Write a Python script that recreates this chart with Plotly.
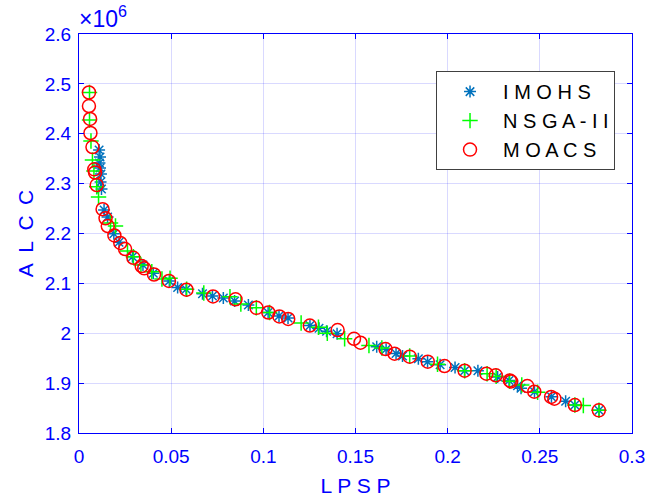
import plotly.graph_objects as go

# LPSP / ALCC (ALCC in units of 1e6)
imohs_lpsp = [0.0109, 0.0114, 0.0111, 0.0114, 0.0119, 0.0117, 0.0122, 0.0136, 0.0155, 0.0189,
              0.0217, 0.0290, 0.0347, 0.0403, 0.0490, 0.0535, 0.0581, 0.0670, 0.0724, 0.0783,
              0.0844, 0.0919, 0.1026, 0.1085, 0.1134, 0.1253, 0.1302, 0.1343, 0.1400, 0.1615,
              0.1666, 0.1720, 0.1755, 0.1841, 0.1891, 0.1959, 0.2040, 0.2092, 0.2164, 0.2271,
              0.2333, 0.2379, 0.2398, 0.2471, 0.2563, 0.2640, 0.2690, 0.2821]
imohs_alcc = [2.3674, 2.3534, 2.3414, 2.3313, 2.3193, 2.3033, 2.2892, 2.2471, 2.2331, 2.1996,
              2.1824, 2.1535, 2.1368, 2.1202, 2.1048, 2.0917, 2.0881, 2.0791, 2.0747, 2.0707,
              2.0647, 2.0566, 2.0416, 2.0346, 2.0306, 2.0155, 2.0099, 2.0041, 1.9991, 1.9728,
              1.9678, 1.9594, 1.9544, 1.9488, 1.9430, 1.9369, 1.9313, 1.9249, 1.9249, 1.9123,
              1.9053, 1.8946, 1.8896, 1.8828, 1.8728, 1.8636, 1.8561, 1.8455]

nsga_lpsp = [0.0057, 0.0057, 0.0065, 0.0073, 0.0081, 0.0096, 0.0106, 0.0171, 0.0198, 0.0263,
             0.0295, 0.0336, 0.0395, 0.0450, 0.0494, 0.0584, 0.0677, 0.0819, 0.0878, 0.0962,
             0.1034, 0.1205, 0.1299, 0.1347, 0.1441, 0.1573, 0.1643, 0.1794, 0.1945, 0.2092,
             0.2214, 0.2263, 0.2336, 0.2402, 0.2488, 0.2690, 0.2736, 0.2821]
nsga_alcc = [2.4827, 2.4276, 2.3855, 2.3474, 2.3253, 2.2938, 2.2732, 2.2211, 2.2150, 2.1649,
             2.1535, 2.1368, 2.1234, 2.1088, 2.1102, 2.0881, 2.0807, 2.0733, 2.0586, 2.0510,
             2.0416, 2.0206, 2.0119, 1.9999, 1.9889, 1.9754, 1.9704, 1.9544, 1.9379, 1.9249,
             1.9189, 1.9139, 1.9039, 1.8962, 1.8818, 1.8561, 1.8551, 1.8455]

moacs_lpsp = [0.0054, 0.0054, 0.0060, 0.0062, 0.0073, 0.0083, 0.0087, 0.0096, 0.0128, 0.0144,
              0.0156, 0.0192, 0.0224, 0.0250, 0.0295, 0.0340, 0.0354, 0.0407, 0.0488, 0.0583,
              0.0727, 0.0849, 0.0963, 0.1027, 0.1087, 0.1135, 0.1252, 0.1403, 0.1492, 0.1527,
              0.1663, 0.1712, 0.1794, 0.1892, 0.1983, 0.2092, 0.2210, 0.2261, 0.2337, 0.2344,
              0.2432, 0.2470, 0.2561, 0.2579, 0.2690, 0.2820]
moacs_alcc = [2.4827, 2.4556, 2.4296, 2.4015, 2.3734, 2.3287, 2.3223, 2.2972, 2.2487, 2.2305,
              2.2150, 2.1960, 2.1810, 2.1689, 2.1513, 2.1348, 2.1302, 2.1178, 2.1048, 2.0873,
              2.0737, 2.0681, 2.0510, 2.0416, 2.0336, 2.0286, 2.0155, 2.0065, 1.9889, 1.9810,
              1.9684, 1.9590, 1.9530, 1.9430, 1.9343, 1.9249, 1.9189, 1.9157, 1.9053, 1.9033,
              1.8942, 1.8828, 1.8722, 1.8688, 1.8561, 1.8455]

x_ticks = [0, 0.05, 0.1, 0.15, 0.2, 0.25, 0.3]
x_labels = ["0", "0.05", "0.1", "0.15", "0.2", "0.25", "0.3"]
y_ticks = [1.8, 1.9, 2.0, 2.1, 2.2, 2.3, 2.4, 2.5, 2.6]
y_labels = ["1.8", "1.9", "2", "2.1", "2.2", "2.3", "2.4", "2.5", "2.6"]

FONT = "Liberation Sans, Arial, sans-serif"
BLUE = "#0000ff"

fig = go.Figure()
fig.add_trace(go.Scatter(
    x=imohs_lpsp, y=imohs_alcc, mode="markers", name="I M O H S", legendgroup="a",
    marker=dict(symbol="asterisk-open", size=10, color="#0072BD",
                line=dict(color="#0072BD", width=1.5))))
fig.add_trace(go.Scatter(
    x=nsga_lpsp, y=nsga_alcc, mode="markers", name="N S G A - I I", legendgroup="b",
    marker=dict(symbol="cross-thin-open", size=11, color="#00ff00",
                line=dict(color="#00ff00", width=1.5))))
fig.add_trace(go.Scatter(
    x=moacs_lpsp, y=moacs_alcc, mode="markers", name="M O A C S", legendgroup="c",
    marker=dict(symbol="circle-open", size=13, color="#ff0000",
                line=dict(color="#ff0000", width=1.5))))

axis_common = dict(
    showline=True, linecolor=BLUE, linewidth=1, mirror="ticks",
    ticks="inside", ticklen=5, tickcolor=BLUE, tickwidth=1,
    showgrid=True, gridcolor="rgba(0,0,255,0.15)", gridwidth=1,
    zeroline=False, automargin=False,
    tickfont=dict(family=FONT, size=19, color=BLUE),
)

fig.update_layout(
    width=646, height=497,
    margin=dict(l=79, r=14, t=34, b=64, autoexpand=False),
    paper_bgcolor="white", plot_bgcolor="white",
    font=dict(family=FONT, color=BLUE),
    xaxis=dict(range=[0, 0.3], tickvals=x_ticks, ticktext=x_labels, ticklabelstandoff=6,
               title=dict(text="L P S P", font=dict(family=FONT, size=21, color=BLUE), standoff=13),
               **axis_common),
    yaxis=dict(range=[1.8, 2.6], tickvals=y_ticks, ticktext=y_labels, ticklabelstandoff=3,
               title=dict(text="A\u2002L\u2002C\u2002C", font=dict(family=FONT, size=21, color=BLUE),
                          standoff=5),
               **axis_common),
    legend=dict(x=0.6456, y=0.907, xanchor="left", yanchor="top",
                bgcolor="white", bordercolor="#404040", borderwidth=1,
                font=dict(family=FONT, size=20, color="black"),
                itemwidth=56, tracegroupgap=0),
    showlegend=True,
)

fig.add_annotation(xref="paper", yref="paper", x=0, y=1, xanchor="left", yanchor="bottom",
                   xshift=-2, yshift=0, text="×10<sup>6</sup>", showarrow=False,
                   font=dict(family=FONT, size=23, color=BLUE))

fig.write_html("out.html")
